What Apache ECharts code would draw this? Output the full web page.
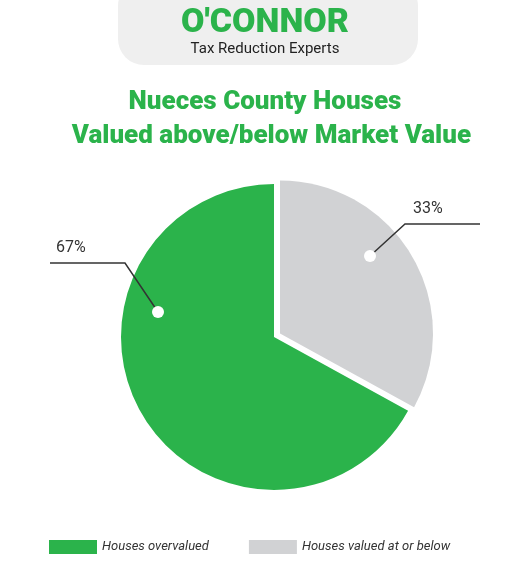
<!DOCTYPE html>
<html><head><meta charset="utf-8">
<script src="https://cdn.jsdelivr.net/npm/echarts@6/dist/echarts.min.js"></script>
<style>html,body{margin:0;background:#fff}#c{width:530px;height:573px}</style>
</head><body><div id="c"></div>
<script>
var categories = ['Houses overvalued', 'Houses valued at or below'];
var values = [67, 33];
var colors = ['#2bb34b', '#d1d2d4'];

var chart = echarts.init(document.getElementById('c'));
var line = { stroke: '#333', lineWidth: 1.5, fill: null };

chart.setOption({
  title: {
    text: 'Nueces County Houses\n  Valued above/below Market Value',
    left: 'center', top: 80,
    textStyle: { color: '#2bb34b', fontSize: 26, fontWeight: 900, fontFamily: 'Roboto', lineHeight: 34 }
  },
  legend: {
    bottom: 14, left: 44, itemGap: 40, itemWidth: 48, itemHeight: 14, icon: 'rect',
    selectedMode: false,
    textStyle: { fontStyle: 'italic', fontSize: 13, color: '#333', fontFamily: 'Roboto', width: 150 }
  },
  graphic: [
    { type: 'rect', shape: { x: 118, y: -20, width: 300, height: 85, r: 26 }, style: { fill: '#efefef' } },
    { type: 'text', left: 'center', top: 6, style: { text: "O'CONNOR", fill: '#2bb34b', font: '900 34px Roboto' } },
    { type: 'text', left: 'center', top: 42, style: { text: 'Tax Reduction Experts', fill: '#222', font: '15px Roboto', letterSpacing: 3 } },
    { type: 'polyline', shape: { points: [[50, 263], [125, 263], [158, 312]] }, style: line, z: 10 },
    { type: 'circle', shape: { cx: 158, cy: 312, r: 6 }, style: { fill: '#fff' }, z: 11 },
    { type: 'text', left: 56, top: 240, style: { text: '67%', fill: '#333', font: '16px Roboto' }, z: 11 },
    { type: 'polyline', shape: { points: [[370, 256], [405, 224], [480, 224]] }, style: line, z: 10 },
    { type: 'circle', shape: { cx: 370, cy: 256, r: 6 }, style: { fill: '#fff' }, z: 11 },
    { type: 'text', left: 413, top: 201, style: { text: '33%', fill: '#333', font: '16px Roboto' }, z: 11 }
  ],
  series: [{
    type: 'pie',
    center: [274, 337], radius: 153,
    startAngle: 90, clockwise: false,
    selectedMode: 'single', selectedOffset: 7,
    silent: true,
    label: { show: false },
    labelLine: { show: false },
    data: categories.map(function (c, i) {
      return { name: c, value: values[i], selected: i === 1, itemStyle: { color: colors[i] } };
    })
  }]
});
</script></body></html>
